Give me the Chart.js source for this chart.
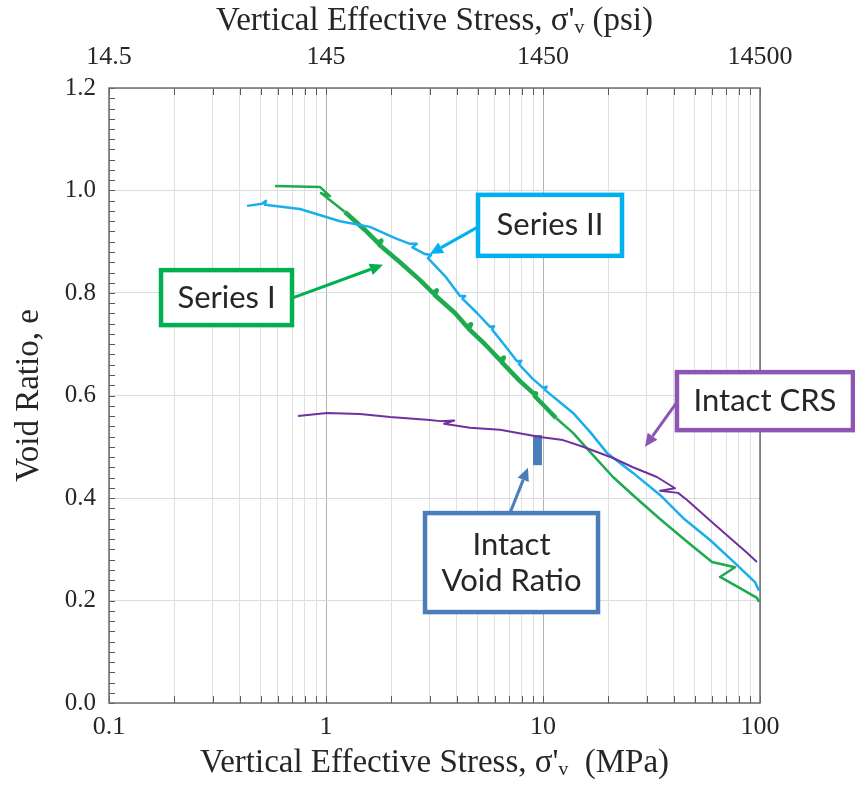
<!DOCTYPE html>
<html>
<head>
<meta charset="utf-8">
<title>Void ratio vs vertical effective stress</title>
<script src="https://cdn.jsdelivr.net/npm/chart.js@4.4.0/dist/chart.umd.min.js"></script>
<style>
  html, body { margin: 0; padding: 0; background: #fff; }
  #wrap { width: 855px; height: 805px; }
</style>
</head>
<body>
<div id="wrap"><canvas id="myChart"></canvas></div>
<script>
// stress values are in MPa, void ratio e is dimensionless

// Series I (green)
const seriesIStress = [0.582, 0.937, 1.043, 0.948, 1.223, 1.512, 1.736, 1.80, 1.76, 2.193, 2.712, 3.112, 3.24, 3.17,
    3.930, 4.465, 4.66, 4.55, 5.403, 6.34, 6.6, 6.45, 7.834, 8.99, 9.3, 9.15, 11.48, 13.75, 16.47, 21.02,
    26.55, 34.61, 45.13, 60.1, 76.7, 65.4, 80.87, 96.8, 99.0];
const seriesIVoid = [1.009, 1.007, 0.989, 0.995, 0.958, 0.923, 0.898, 0.902, 0.894, 0.860, 0.825, 0.800, 0.805, 0.796,
    0.761, 0.734, 0.739, 0.730, 0.700, 0.669, 0.674, 0.665, 0.628, 0.605, 0.604, 0.599, 0.556, 0.527, 0.490, 0.441,
    0.402, 0.359, 0.318, 0.275, 0.265, 0.246, 0.224, 0.205, 0.197];

// Series II (light blue)
const seriesIIStress = [0.433, 0.507, 0.529, 0.523, 0.759, 1.16, 1.595, 2.08, 2.439, 2.62, 2.50, 2.859, 3.05, 2.95,
    3.536, 4.145, 4.38, 4.25, 4.965, 5.70, 5.95, 5.82, 6.682, 7.591, 7.95, 7.75, 8.90, 10.0, 10.4, 10.2,
    11.97, 13.75, 16.47, 19.72, 25.98, 34.61, 44.19, 58.86, 76.7, 94.8, 99.0];
const seriesIIVoid = [0.970, 0.974, 0.980, 0.972, 0.964, 0.940, 0.929, 0.907, 0.896, 0.896, 0.889, 0.876, 0.874, 0.868,
    0.833, 0.794, 0.794, 0.789, 0.761, 0.734, 0.735, 0.729, 0.697, 0.667, 0.668, 0.661, 0.634, 0.615, 0.617, 0.611,
    0.587, 0.566, 0.529, 0.488, 0.449, 0.406, 0.361, 0.318, 0.273, 0.236, 0.219];

// Intact CRS (purple)
const crsStress = [0.743, 1.01, 1.435, 1.972, 3.01, 3.353, 3.9, 3.5, 4.609, 6.34, 9.69, 12.36, 15.29, 21.02,
    25.98, 33.5, 40.6, 34.61, 41.9, 46.1, 60.7, 87.1, 96.8];
const crsVoid = [0.560, 0.566, 0.564, 0.558, 0.552, 0.550, 0.551, 0.545, 0.537, 0.533, 0.519, 0.513, 0.500, 0.478,
    0.460, 0.441, 0.419, 0.414, 0.410, 0.396, 0.351, 0.293, 0.275];

// Intact void ratio (range bar)
const intactStress = [9.43, 9.43];
const intactVoid = [0.464, 0.523];

// axis labels
const decadeValues = [0.1, 1, 10, 100];
const mpaTickLabels = ['0.1', '1', '10', '100'];
const psiTickLabels = ['14.5', '145', '1450', '14500'];

const toPoints = (xs, ys) => xs.map((x, i) => ({ x: x, y: ys[i] }));

// tick positions for the log axis (1..9 per decade) and the void ratio axis (every 0.02)
const xTickValues = [];
for (let p = -1; p < 2; p++) {
    for (let m = 1; m < 10; m++) xTickValues.push(+(m * Math.pow(10, p)).toPrecision(3));
}
xTickValues.push(100);
const yTickValues = [];
for (let k = 0; k <= 60; k++) yTickValues.push(+(k * 0.02).toFixed(2));

const decadeIndex = v => decadeValues.findIndex(d => Math.abs(d - v) < 1e-9);
const isYMajor = v => Math.abs(v * 5 - Math.round(v * 5)) < 1e-6;

const serif = 'Liberation Serif, Times New Roman, serif';
const textColor = '#262626';

// callout boxes, positioned in data units
const callouts = [
    { lines: ['Series II'], color: '#00B0F0', x: 10.77, y: 0.932, w: 144, h: 61, fromX: 5.02, fromY: 0.929, tipX: 3.01, tipY: 0.876 },
    { lines: ['Series I'], color: '#00B050', x: 0.348, y: 0.791, w: 131, h: 55, fromX: 0.697, fromY: 0.790, tipX: 1.83, tipY: 0.855 },
    { lines: ['Intact CRS'], color: '#8E55B4', x: 105.4, y: 0.589, w: 176, h: 58, fromX: 41.45, fromY: 0.587, tipX: 29.5, tipY: 0.500 },
    { lines: ['Intact', 'Void Ratio'], color: '#4A7EBB', x: 7.16, y: 0.274, w: 173, h: 99, fromX: 7.05, fromY: 0.371, tipX: 8.53, tipY: 0.459 }
];

const frameAndTicks = {
    id: 'frameAndTicks',
    beforeDatasetsDraw(chart) {
        const { ctx, chartArea: a, scales } = chart;
        ctx.save();
        ctx.strokeStyle = '#5a5a5a';
        ctx.lineWidth = 1;
        ctx.beginPath();
        xTickValues.forEach(v => {
            const px = Math.round(scales.x.getPixelForValue(v)) + 0.5;
            ctx.moveTo(px, a.bottom); ctx.lineTo(px, a.bottom - 7);
            ctx.moveTo(px, a.top); ctx.lineTo(px, a.top + 7);
        });
        yTickValues.forEach(v => {
            const py = Math.round(scales.y.getPixelForValue(v)) + 0.5;
            ctx.moveTo(a.left, py); ctx.lineTo(a.left + 6, py);
        });
        ctx.stroke();
        ctx.strokeStyle = '#6e6e6e';
        ctx.lineWidth = 1.5;
        ctx.strokeRect(a.left, a.top, a.right - a.left, a.bottom - a.top);
        ctx.restore();
    }
};

const calloutPlugin = {
    id: 'callouts',
    afterDatasetsDraw(chart) {
        const { ctx, scales } = chart;
        const X = v => scales.x.getPixelForValue(v);
        const Y = v => scales.y.getPixelForValue(v);
        ctx.save();
        callouts.forEach(c => {
            // arrow
            const sx = X(c.fromX), sy = Y(c.fromY), tx = X(c.tipX), ty = Y(c.tipY);
            const ang = Math.atan2(ty - sy, tx - sx);
            const head = 13, half = 6;
            const bx = tx - head * Math.cos(ang), by = ty - head * Math.sin(ang);
            ctx.strokeStyle = c.color;
            ctx.fillStyle = c.color;
            ctx.lineWidth = 3;
            ctx.beginPath();
            ctx.moveTo(sx, sy);
            ctx.lineTo(bx, by);
            ctx.stroke();
            ctx.beginPath();
            ctx.moveTo(tx, ty);
            ctx.lineTo(bx + half * Math.sin(ang), by - half * Math.cos(ang));
            ctx.lineTo(bx - half * Math.sin(ang), by + half * Math.cos(ang));
            ctx.closePath();
            ctx.fill();

            // box
            const cx = X(c.x), cy = Y(c.y);
            ctx.fillStyle = '#ffffff';
            ctx.fillRect(cx - c.w / 2, cy - c.h / 2, c.w, c.h);
            ctx.lineWidth = 4.5;
            ctx.strokeStyle = c.color;
            ctx.strokeRect(cx - c.w / 2, cy - c.h / 2, c.w, c.h);

            // text
            ctx.fillStyle = textColor;
            ctx.font = '31px Lato, "Open Sans", sans-serif';
            ctx.textAlign = 'center';
            ctx.textBaseline = 'middle';
            const lh = 36;
            c.lines.forEach((t, i) => {
                ctx.fillText(t, cx, cy + (i - (c.lines.length - 1) / 2) * lh);
            });
        });
        ctx.restore();
    }
};

const myChart = document.getElementById('myChart');

new Chart(myChart, {
    type: 'scatter',
    data: {
        datasets: [
            {
                label: 'Intact CRS',
                data: toPoints(crsStress, crsVoid),
                showLine: true,
                borderColor: '#7030A0',
                borderWidth: 2,
                pointRadius: 0,
                borderJoinStyle: 'round'
            },
            {
                label: 'Series II',
                data: toPoints(seriesIIStress, seriesIIVoid),
                showLine: true,
                borderColor: '#1AAEEC',
                borderWidth: 2.5,
                pointRadius: 0,
                borderJoinStyle: 'round'
            },
            {
                label: 'Series I',
                data: toPoints(seriesIStress, seriesIVoid),
                showLine: true,
                borderColor: '#1EAA4E',
                borderWidth: 2.5,
                pointRadius: 0,
                borderJoinStyle: 'round',
                segment: {
                    borderWidth: ctx => (ctx.p0.parsed.x > 1.1 && ctx.p1.parsed.x < 13) ? 4.5 : 2.5
                }
            },
            {
                label: 'Intact Void Ratio',
                data: toPoints(intactStress, intactVoid),
                showLine: true,
                borderColor: '#4A7EBB',
                borderWidth: 9,
                borderCapStyle: 'butt',
                pointRadius: 0
            }
        ]
    },
    options: {
        responsive: true,
        maintainAspectRatio: false,
        animation: false,
        layout: { padding: { left: 0, right: 95, top: 0, bottom: 0 } },
        plugins: {
            legend: { display: false },
            tooltip: { enabled: false }
        },
        scales: {
            x: {
                type: 'logarithmic',
                position: 'bottom',
                min: 0.1,
                max: 100,
                afterBuildTicks: s => { s.ticks = xTickValues.map(v => ({ value: v })); },
                afterFit: s => { s.height = 102; },
                border: { display: false },
                grid: {
                    drawTicks: false,
                    color: c => decadeIndex(c.tick.value) >= 0 ? '#b4b4b4' : '#e0e0e0',
                    lineWidth: 1
                },
                ticks: {
                    autoSkip: false,
                    maxRotation: 0,
                    padding: 9,
                    color: textColor,
                    font: { family: serif, size: 26 },
                    callback: v => { const i = decadeIndex(v); return i >= 0 ? mpaTickLabels[i] : ''; }
                },
                title: {
                    display: true,
                    text: "Vertical Effective Stress, σ'ᵥ  (MPa)",
                    color: textColor,
                    font: { family: serif, size: 33 },
                    padding: { top: 0, bottom: 22 }
                }
            },
            x2: {
                type: 'logarithmic',
                position: 'top',
                min: 0.1,
                max: 100,
                afterBuildTicks: s => { s.ticks = xTickValues.map(v => ({ value: v })); },
                afterFit: s => { s.height = 88; },
                border: { display: false },
                grid: { display: false, drawTicks: false },
                ticks: {
                    autoSkip: false,
                    maxRotation: 0,
                    padding: 15,
                    color: textColor,
                    font: { family: serif, size: 26 },
                    callback: v => { const i = decadeIndex(v); return i >= 0 ? psiTickLabels[i] : ''; }
                },
                title: {
                    display: true,
                    text: "Vertical Effective Stress, σ'ᵥ (psi)",
                    color: textColor,
                    font: { family: serif, size: 33 },
                    padding: { top: 2, bottom: 0 }
                }
            },
            y: {
                type: 'linear',
                min: 0,
                max: 1.2,
                afterBuildTicks: s => { s.ticks = yTickValues.map(v => ({ value: v })); },
                afterFit: s => { s.width = 109; },
                border: { display: false },
                grid: {
                    drawTicks: false,
                    color: c => isYMajor(c.tick.value) ? '#dcdcdc' : 'rgba(0,0,0,0)',
                    lineWidth: 1
                },
                ticks: {
                    autoSkip: false,
                    padding: 13,
                    color: textColor,
                    font: { family: serif, size: 25 },
                    callback: v => isYMajor(v) ? (Math.round(v * 5) / 5).toFixed(1) : ''
                },
                title: {
                    display: true,
                    text: 'Void Ratio, e',
                    color: textColor,
                    font: { family: serif, size: 33 },
                    padding: { top: 10, bottom: 0 }
                }
            }
        }
    },
    plugins: [frameAndTicks, calloutPlugin]
});
</script>
</body>
</html>
